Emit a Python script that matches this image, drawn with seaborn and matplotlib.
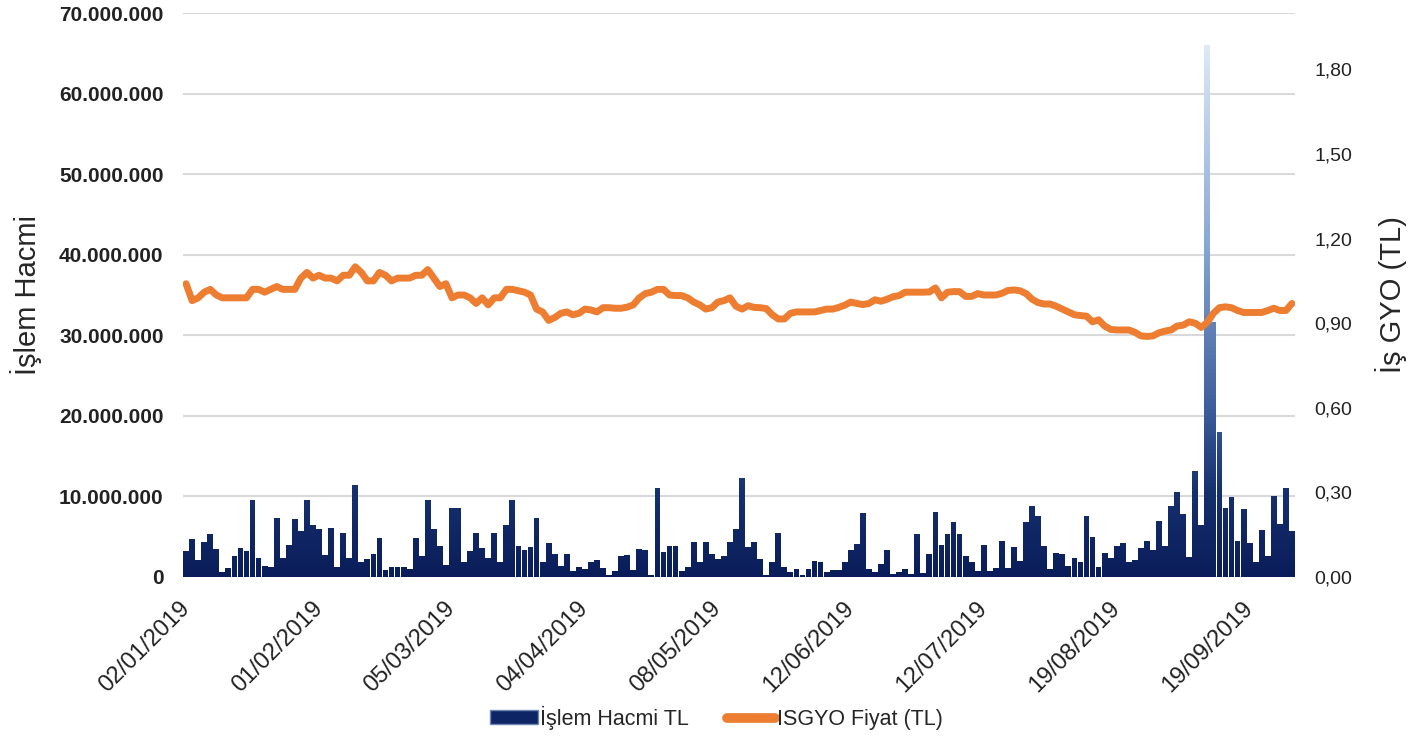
#!/usr/bin/env python
# -*- coding: utf-8 -*-

import numpy as np
import pandas as pd

import matplotlib.pyplot as plt
import matplotlib as mpl
from matplotlib.path import Path
from matplotlib.patches import Patch
from matplotlib.lines import Line2D
import matplotlib.transforms as mtransforms
import seaborn as sns

## ============================================================= ##

# trading days 2019 (BIST), public holidays removed
holidays = ['2019-04-23', '2019-05-01', '2019-06-05', '2019-06-06', '2019-06-07',
            '2019-07-15', '2019-08-12', '2019-08-13', '2019-08-14', '2019-08-30']
days = pd.bdate_range('2019-01-02', '2019-09-30')
days = days[~days.isin(pd.to_datetime(holidays))]

# daily volume (million TL)
volume_m = [3.2, 4.7, 2.1, 4.3, 5.3, 3.5, 0.6, 1.1, 2.6, 3.6, 3.2, 9.5, 2.4, 1.4, 1.2, 7.3,
            2.4, 4.0, 7.2, 5.7, 9.5, 6.4, 6.0, 2.7, 6.1, 1.2, 5.5, 2.4, 11.4, 1.8, 2.2, 2.8,
            4.9, 0.9, 1.2, 1.3, 1.2, 1.0, 4.9, 2.6, 9.5, 6.0, 3.8, 1.5, 8.5, 8.6, 1.9, 3.2,
            5.5, 3.6, 2.4, 5.4, 1.9, 6.4, 9.5, 3.9, 3.4, 3.7, 7.3, 1.9, 4.2,
            2.9, 1.4, 2.9, 0.8, 1.2, 1.0, 1.9, 2.1, 1.1, 0.3, 0.8, 2.6, 2.7, 0.9, 3.5, 3.4,
            0.3, 11.0, 3.1, 3.8, 3.8, 0.7, 1.3, 4.4, 1.8, 4.4, 2.9, 2.2, 2.6, 4.3, 6.0, 12.3,
            3.7, 4.3, 2.2, 0.2, 1.9, 5.4, 1.2, 0.6, 1.0, 0.2, 1.0, 2.0, 1.8, 0.6, 0.9, 0.9,
            1.8, 3.3, 4.1, 8.0, 1.0, 0.6, 1.6, 3.4, 0.4, 0.6, 1.0, 0.4, 5.3, 0.5,
            2.8, 8.1, 4.0, 5.3, 6.8, 5.3, 2.6, 1.8, 0.8, 4.0, 0.8, 1.1, 4.5, 1.1, 3.7, 2.0,
            6.8, 8.8, 7.6, 3.8, 1.0, 3.0, 2.8, 1.4, 2.4, 1.8, 7.6, 5.0, 1.3, 3.0, 2.3, 3.8,
            4.2, 1.9, 2.1, 3.6, 4.5, 3.4, 7.0, 3.8, 8.8, 10.6, 7.8, 2.5, 13.1, 6.4, 66.0, 31.6,
            18.0, 8.5, 9.9, 4.5, 8.4, 4.2, 1.8, 5.8, 2.6, 10.0, 6.6, 11.1, 5.7]

# ISGYO close price (TL)
price = [1.04, 0.98, 0.99, 1.01, 1.02, 1.00, 0.99, 0.99, 0.99, 0.99, 0.99, 1.02, 1.02, 1.01, 1.02, 1.03,
         1.02, 1.02, 1.02, 1.06, 1.08, 1.06, 1.07, 1.06, 1.06, 1.05, 1.07, 1.07, 1.10, 1.08, 1.05, 1.05,
         1.08, 1.07, 1.05, 1.06, 1.06, 1.06, 1.07, 1.07, 1.09, 1.06, 1.03, 1.04, 0.99, 1.00, 1.00, 0.99,
         0.97, 0.99, 0.965, 0.99, 0.99, 1.02, 1.02, 1.015, 1.01, 1.00, 0.95, 0.94, 0.91, 0.92, 0.935, 0.94,
         0.93, 0.935, 0.95, 0.947, 0.94, 0.955, 0.955, 0.953, 0.953, 0.957, 0.965, 0.99, 1.005, 1.01, 1.02, 1.02,
         1.00, 0.998, 0.998, 0.99, 0.975, 0.965, 0.95, 0.955, 0.975, 0.98, 0.99, 0.96, 0.95,
         0.962, 0.956, 0.955, 0.952, 0.93, 0.915, 0.915, 0.935, 0.94, 0.94, 0.94, 0.94, 0.945, 0.95, 0.95, 0.956,
         0.964, 0.975, 0.97, 0.966, 0.97, 0.983, 0.978, 0.985, 0.994, 0.998, 1.01, 1.01, 1.01, 1.01, 1.011, 1.025,
         0.99, 1.01, 1.012, 1.012, 0.995, 0.995, 1.005, 1.00, 1.00, 1.00, 1.006, 1.016, 1.018, 1.015, 1.005, 0.985,
         0.973, 0.968, 0.968, 0.96, 0.95, 0.94, 0.93, 0.927, 0.925, 0.905, 0.912, 0.89, 0.878, 0.876, 0.876, 0.876,
         0.868, 0.855, 0.853, 0.855, 0.866, 0.872, 0.876, 0.89, 0.893, 0.905, 0.90, 0.885, 0.903, 0.935, 0.955, 0.958,
         0.955, 0.945, 0.938, 0.938, 0.938, 0.938, 0.945, 0.953, 0.945, 0.945, 0.97]

left_ticks = np.arange(0, 70e6 + 1, 10e6)
right_ticks = np.arange(0, 1.81, 0.30)

## ============================================================= ##

df = pd.DataFrame({'day': np.arange(len(days)), 'date': days,
                   'volume': np.array(volume_m) * 1e6, 'price': price})

navy = '#0E2565'
orange = '#ED7D31'

sns.set_style('white')
plt.rcParams['font.family'] = ['Liberation Sans', 'DejaVu Sans']

fig = plt.figure(figsize=(14.19, 7.40), dpi=100)
ax = fig.add_axes([0.129, 0.2203, 0.7836, 0.7621])

sns.barplot(data=df, x='day', y='volume', ax=ax, color=navy, saturation=1,
            width=0.96, linewidth=0, edgecolor='none')

# gradient fill over the bars (lighter towards top of plot)
cmap = mpl.colors.LinearSegmentedColormap.from_list(
    'bars', [(0.0, '#0A1D5A'), (0.15, '#16306E'), (0.3, '#3D5E9C'),
             (0.6, '#8AA9D6'), (0.9, '#D3E1F3'), (1.0, '#F2F6FC')])
paths = [p.get_path().transformed(p.get_patch_transform()) for p in ax.patches]
clip = Path.make_compound_path(*paths)
grad = np.linspace(0, 1, 256).reshape(-1, 1)
im = ax.imshow(grad, extent=[-0.5, len(df) - 0.5, 0, 70e6], origin='lower',
               aspect='auto', cmap=cmap, zorder=2)
im.set_clip_path(clip, transform=ax.transData)

ax.set_xlim(-0.5, len(df) - 0.5)
ax.set_ylim(0, 70e6)
ax.set_yticks(left_ticks)
ax.set_yticklabels([f'{v:,.0f}'.replace(',', '.') for v in left_ticks],
                   fontsize=15, fontweight='bold', color='#222222')
tick_pos = np.arange(0, len(df), 22)
ax.set_xticks(tick_pos)
ax.set_xticklabels([df['date'][i].strftime('%d/%m/%Y') for i in tick_pos],
                   rotation=45, ha='right', va='center', rotation_mode='anchor',
                   fontsize=17, color='#222222')
shift = mtransforms.ScaledTranslation(10 / 72., 0, fig.dpi_scale_trans)
for lab in ax.get_xticklabels():
    lab.set_transform(lab.get_transform() + shift)
ax.tick_params(axis='y', length=0, pad=14)
ax.tick_params(axis='x', length=0, pad=20)
ax.grid(axis='y', color='#D9D9D9', lw=1.5)
ax.set_axisbelow(True)
ax.set_xlabel(None)
ax.set_ylabel('İşlem Hacmi', fontsize=21, labelpad=12)
sns.despine(ax=ax, left=True, bottom=True)

ax2 = ax.twinx()
sns.lineplot(data=df, x='day', y='price', ax=ax2, color=orange, linewidth=5,
             solid_joinstyle='round', solid_capstyle='round')
ax2.set_ylim(0, 2.0)
ax2.set_yticks(right_ticks)
ax2.set_yticklabels([f'{v:.2f}'.replace('.', ',') for v in right_ticks],
                    fontsize=14, color='#222222')
ax2.tick_params(axis='y', length=0, pad=14)
ax2.set_ylabel('İş GYO (TL)', fontsize=21, labelpad=16)
ax2.set_xlabel(None)
for s in ax2.spines.values():
    s.set_visible(False)

handles = [Patch(facecolor=navy, edgecolor='#6F86B5', lw=1),
           Line2D([0], [0], color=orange, lw=7, solid_capstyle='round')]
fig.legend(handles, ['İşlem Hacmi TL', 'ISGYO Fiyat (TL)'], loc='center',
           bbox_to_anchor=(0.505, 0.03), ncol=2, frameon=False, fontsize=15.5,
           handlelength=2.2, handleheight=0.6, handletextpad=0.1, columnspacing=1.8)

fig.savefig('out.png', dpi=100)
